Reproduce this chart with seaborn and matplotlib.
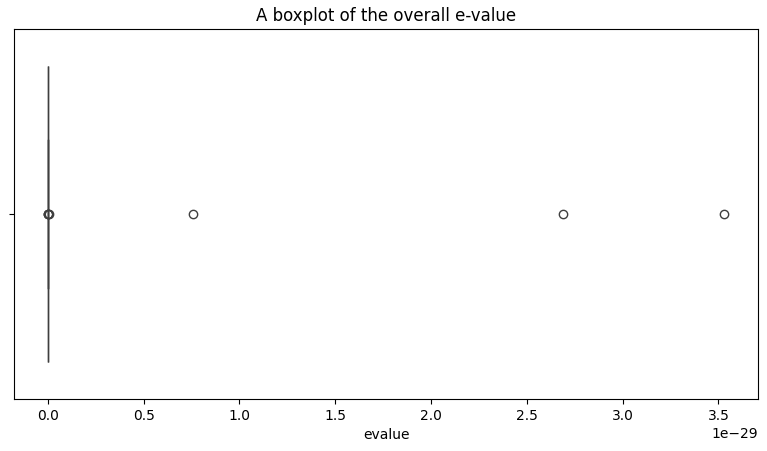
import numpy as np
import pandas as pd
import seaborn as sns
import matplotlib.pyplot as plt

# e-values: most hits are exactly zero, a handful are tiny non-zero values
zero_hits = [0.0] * 40
tiny_hits = [1e-33, 4e-33, 2e-32, 6e-32]
large_hits = [7.6e-30, 2.69e-29, 3.53e-29]

evalues = zero_hits + tiny_hits + large_hits
df = pd.DataFrame({"evalue": evalues})

fig = plt.figure(figsize=(7.67, 4.51), dpi=100)
ax = fig.add_axes([0.0183, 0.1153, 0.9700, 0.8193])

sns.boxplot(data=df, x="evalue", ax=ax)
ax.set_title("A boxplot of the overall e-value")

plt.savefig("out.png", dpi=100)
